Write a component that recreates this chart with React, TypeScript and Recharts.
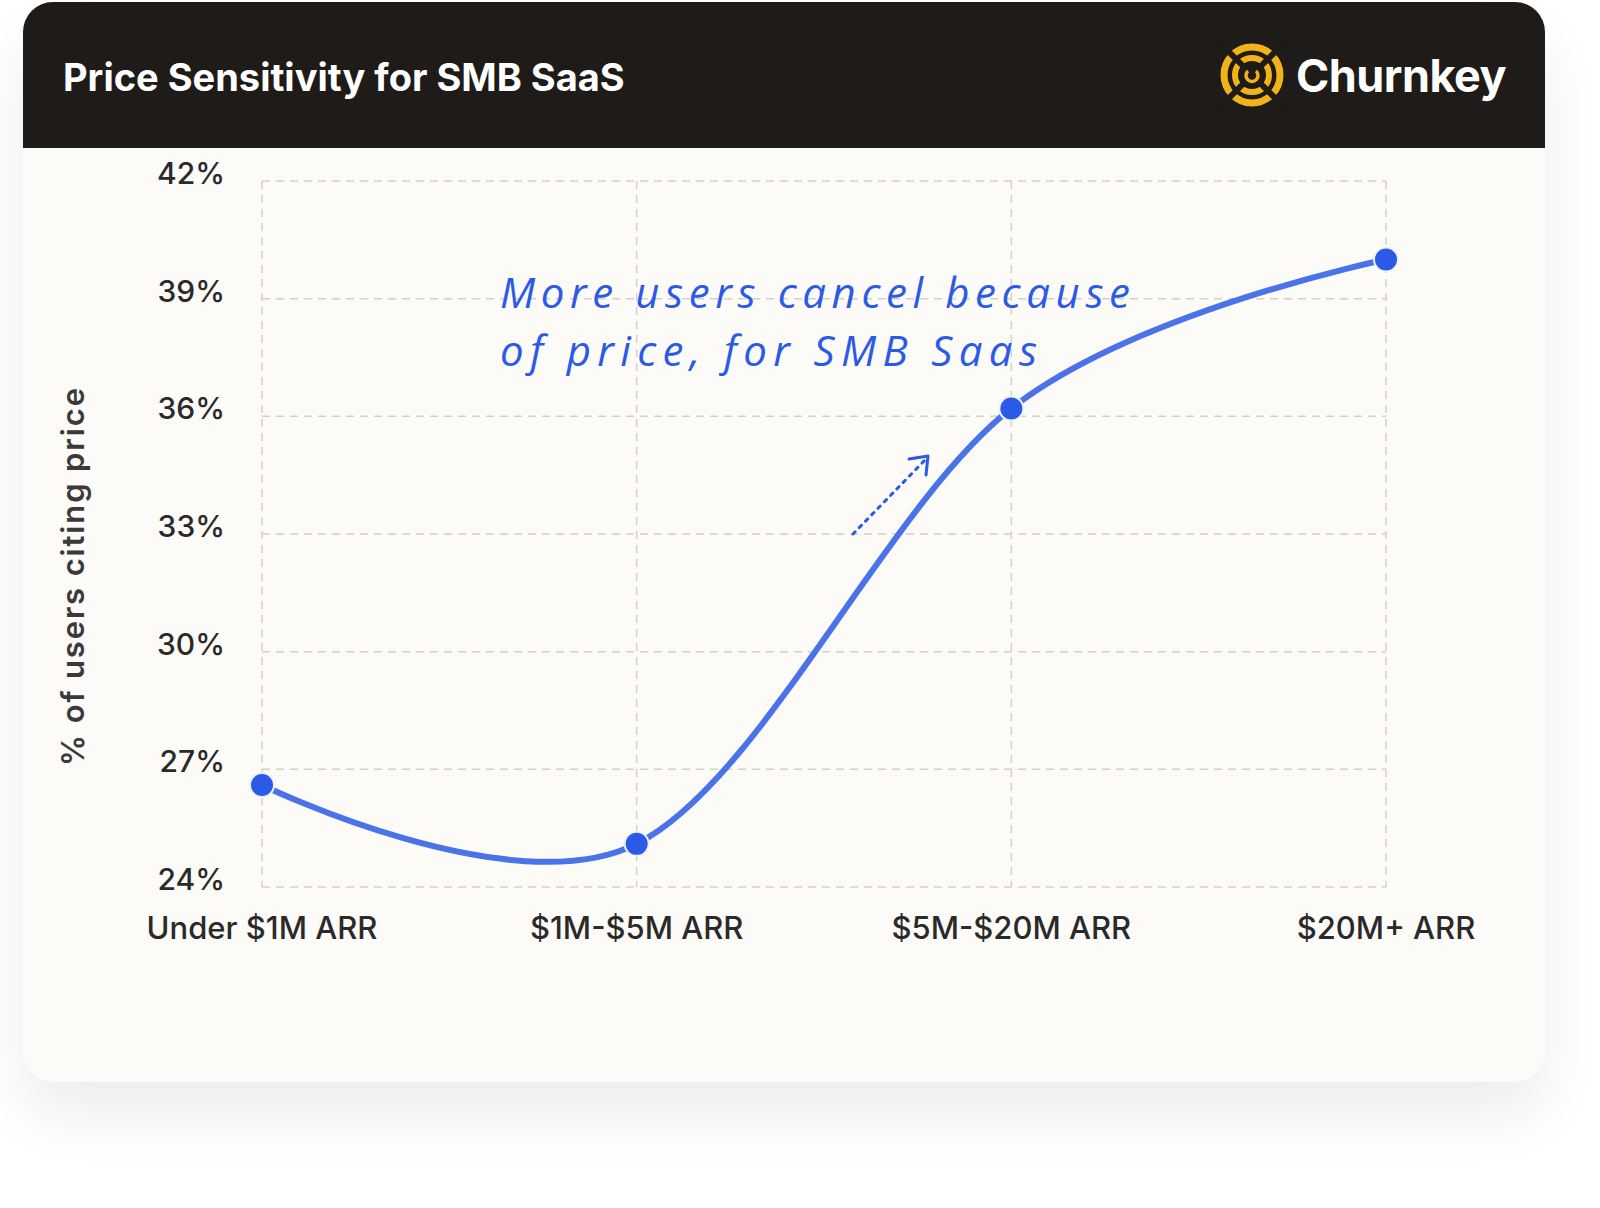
import React from 'react';
import { LineChart, Line, XAxis, YAxis, CartesianGrid } from 'recharts';

const categories = ['Under $1M ARR', '$1M-$5M ARR', '$5M-$20M ARR', '$20M+ ARR'];
const priceShare = [26.6, 25.1, 36.2, 40.0];
const yTicks = [24, 27, 30, 33, 36, 39, 42];

const data = categories.map((name, i) => ({ name, value: priceShare[i] }));

const FONT = 'Inter, "Noto Sans", sans-serif';
const BLUE = '#4A73EA';
const DOT = '#2B5BE6';
const GRID = '#D9D0C4';

// catmull-rom style curve (end control points sit on the end points), d3 curve factory shape
function smoothCurve(context: any) {
  let xs: number[] = [];
  let ys: number[] = [];
  return {
    areaStart() {},
    areaEnd() {},
    lineStart() {
      xs = [];
      ys = [];
    },
    point(x: number, y: number) {
      xs.push(+x);
      ys.push(+y);
    },
    lineEnd() {
      const n = xs.length;
      if (!n) return;
      context.moveTo(xs[0], ys[0]);
      for (let i = 0; i < n - 1; i++) {
        const x1 = xs[i], y1 = ys[i], x2 = xs[i + 1], y2 = ys[i + 1];
        const c1x = i === 0 ? x1 : x1 + (x2 - xs[i - 1]) / 6;
        const c1y = i === 0 ? y1 : y1 + (y2 - ys[i - 1]) / 6;
        const c2x = i === n - 2 ? x2 : x2 - (xs[i + 2] - x1) / 6;
        const c2y = i === n - 2 ? y2 : y2 - (ys[i + 2] - y1) / 6;
        context.bezierCurveTo(c1x, c1y, c2x, c2y, x2, y2);
      }
    },
  };
}

const XTick = (props: any) => {
  const { x, y, payload } = props;
  return (
    <text x={x} y={y + 44} textAnchor="middle" fontFamily={FONT} fontSize={31} fontWeight={500} fill="#2a2a2a">
      {payload.value}
    </text>
  );
};

const YTick = (props: any) => {
  const { x, y, payload } = props;
  return (
    <text x={x} y={y + 3} textAnchor="end" fontFamily={FONT} fontSize={30} fontWeight={500} fill="#2a2a2a">
      {payload.value}%
    </text>
  );
};

const Logo = () => (
  <svg width={70} height={70} viewBox="-35 -35 70 70">
    <g fill="none" stroke="#F2B318">
      <circle r={28} strokeWidth={7} />
      <circle r={17} strokeWidth={6} />
      <path d="M -4 -4 A 6 6 0 1 0 4 -4" strokeWidth={3.5} />
    </g>
    <g stroke="#1F1B18" strokeWidth={6}>
      <line x1={-33} y1={-33} x2={-8} y2={-8} />
      <line x1={33} y1={-33} x2={8} y2={-8} />
      <line x1={-33} y1={33} x2={-8} y2={8} />
      <line x1={33} y1={33} x2={8} y2={8} />
    </g>
  </svg>
);

export default function App() {
  return (
    <div style={{ position: 'absolute', left: 23, top: 2 }}>
      <div
        style={{
          width: 1522,
          height: 1080,
          borderRadius: 30,
          background: '#FDFBF8',
          boxShadow: '0 34px 60px rgba(0,0,0,0.07)',
          overflow: 'hidden',
          position: 'relative',
        }}
      >
        <div
          style={{
            height: 146,
            background: '#1F1B18',
            position: 'relative',
            fontFamily: FONT,
            color: '#FFFFFF',
          }}
        >
          <div style={{ position: 'absolute', left: 40, top: 50, fontSize: 38, fontWeight: 700, lineHeight: '50px' }}>
            Price Sensitivity for SMB SaaS
          </div>
          <div style={{ position: 'absolute', left: 1194, top: 38, display: 'flex', alignItems: 'center' }}>
            <Logo />
            <span style={{ marginLeft: 9, fontSize: 45, fontWeight: 700, letterSpacing: -0.5 }}>Churnkey</span>
          </div>
        </div>

        <LineChart width={1522} height={934} data={data} margin={{ top: 33, right: 159, bottom: 165, left: 0 }}>
          <CartesianGrid stroke={GRID} strokeWidth={1.5} strokeDasharray="8 6" />
          <XAxis
            dataKey="name"
            scale="point"
            height={30}
            padding={{ left: 0, right: 0 }}
            axisLine={false}
            tickLine={false}
            tick={<XTick />}
            interval={0}
          />
          <YAxis
            width={239}
            domain={[24, 42]}
            ticks={yTicks}
            axisLine={false}
            tickLine={false}
            tickMargin={31}
            tick={<YTick />}
            label={{
              content: () => (
                <text
                  x={49}
                  y={429}
                  transform="rotate(-90 49 429)"
                  textAnchor="middle"
                  dominantBaseline="central"
                  fontFamily={FONT}
                  fontSize={31}
                  fontWeight={600}
                  fill="#3a3a3a"
                  textLength={378}
                  lengthAdjust="spacing"
                >
                  % of users citing price
                </text>
              ),
            }}
          />
          <Line
            dataKey="value"
            type={smoothCurve as any}
            stroke={BLUE}
            strokeWidth={6}
            dot={{ r: 12, fill: DOT, stroke: '#EEF2FF', strokeWidth: 2, fillOpacity: 1 }}
            activeDot={false}
            isAnimationActive={false}
          />
        </LineChart>

        <svg width={1522} height={1080} style={{ position: 'absolute', left: 0, top: 0, pointerEvents: 'none' }}>
          <g fill={DOT} fontFamily='"Open Sans", sans-serif' fontStyle="italic" fontWeight={500} fontSize={42}>
            <text x={477} y={306} textLength={630} lengthAdjust="spacing">
              More users cancel because
            </text>
            <text x={477} y={364} textLength={537} lengthAdjust="spacing">
              of price, for SMB Saas
            </text>
          </g>
          <g stroke={DOT} strokeWidth={3} fill="none" strokeLinecap="round">
            <line x1={830} y1={532} x2={903} y2={457} strokeDasharray="3 6" />
            <polyline points="886,457 905,454 903,473" strokeLinejoin="round" />
          </g>
        </svg>
      </div>
    </div>
  );
}
